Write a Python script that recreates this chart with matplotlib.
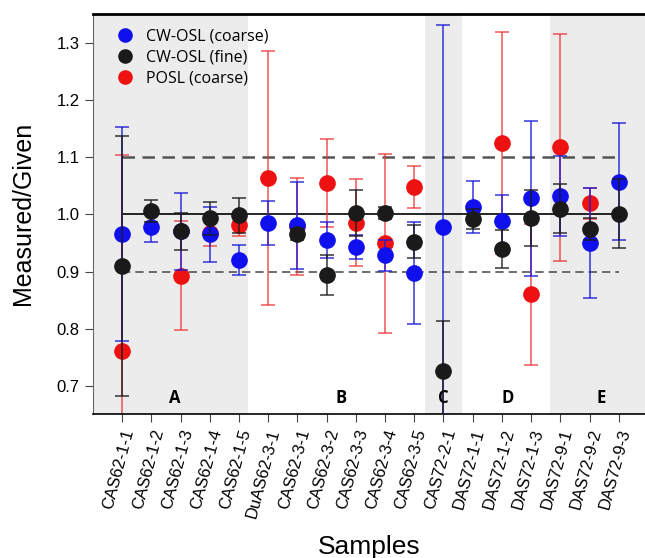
import numpy as np
import matplotlib
matplotlib.use("Agg")
import matplotlib.pyplot as plt
from matplotlib.lines import Line2D

samples = ["CAS62-1-1", "CAS62-1-2", "CAS62-1-3", "CAS62-1-4", "CAS62-1-5",
           "DuAS62-3-1", "CAS62-3-1", "CAS62-3-2", "CAS62-3-3", "CAS62-3-4",
           "CAS62-3-5", "CAS72-2-1", "DAS72-1-1", "DAS72-1-2", "DAS72-1-3",
           "DAS72-9-1", "DAS72-9-2", "DAS72-9-3"]

nan = np.nan
# CW-OSL (coarse)
cw_coarse = [0.965, 0.978, 0.970, 0.965, 0.920, 0.985, 0.981, 0.955, 0.942,
             0.928, 0.897, 0.978, 1.013, 0.988, 1.028, 1.032, 0.950, 1.057]
cw_coarse_err = [0.187, 0.026, 0.068, 0.048, 0.026, 0.039, 0.076, 0.032, 0.021,
                 0.027, 0.089, 0.352, 0.045, 0.046, 0.135, 0.070, 0.096, 0.102]
# CW-OSL (fine)
cw_fine = [0.909, 1.006, 0.970, 0.993, 0.998, nan, 0.965, 0.894, 1.002,
           1.002, 0.952, 0.727, 0.992, 0.940, 0.994, 1.010, 0.974, 1.001]
cw_fine_err = [0.227, 0.019, 0.033, 0.029, 0.031, nan, 0.010, 0.035, 0.040,
               0.010, 0.029, 0.087, 0.018, 0.033, 0.049, 0.043, 0.019, 0.060]
# POSL (coarse)
posl = [0.761, nan, 0.893, 0.967, 0.982, 1.063, 0.979, 1.054, 0.985,
        0.949, 1.048, nan, nan, 1.124, 0.860, 1.117, 1.019, nan]
posl_err = [0.342, nan, 0.095, 0.022, 0.020, 0.222, 0.085, 0.077, 0.076,
            0.156, 0.037, nan, nan, 0.194, 0.123, 0.198, 0.027, nan]

groups = ["A", "B", "C", "D", "E"]
group_x = [2.8, 8.5, 12.0, 14.2, 17.4]
shades = [(0.0, 5.3), (11.36, 12.64), (15.64, 19.0)]

x = np.arange(1, len(samples) + 1)

fig = plt.figure(figsize=(6.45, 5.58), dpi=100)
ax = fig.add_axes([93/645, 1 - 414/558, 552/645, 400/558])

for a, b in shades:
    ax.axvspan(a, b, color='#ececec', lw=0, zorder=0)

ax.hlines(1.0, 1, 18, colors='black', lw=1.2, zorder=1)
ax.hlines(1.1, 1, 18, colors='#555555', lw=1.8, linestyles=(0, (5, 3)), zorder=1)
ax.hlines(0.9, 1, 18, colors='#555555', lw=1.2, linestyles=(0, (5, 3)), zorder=1)

style = dict(fmt='o', ms=11, capsize=5, elinewidth=1.3, capthick=1.3)
ax.errorbar(x, posl, yerr=posl_err, color='#ee1111', mec='#ee1111',
            ecolor=(0.93, 0.2, 0.2, 0.7), zorder=2, **style)
ax.errorbar(x, cw_coarse, yerr=cw_coarse_err, color='#1010ee', mec='#1010ee',
            ecolor=(0.1, 0.1, 0.85, 0.75), zorder=3, **style)
ax.errorbar(x, cw_fine, yerr=cw_fine_err, color='#1a1a1a', mec='#1a1a1a',
            ecolor=(0.1, 0.1, 0.1, 0.75), zorder=4, **style)

for g, gx in zip(groups, group_x):
    ax.text(gx, 0.679, g, ha='center', va='center', fontsize=12, fontweight='bold',
            family='Open Sans')

ax.set_xlim(0, 18.9)
ax.set_ylim(0.651, 1.35)
ax.set_yticks([0.7, 0.8, 0.9, 1.0, 1.1, 1.2, 1.3])
ax.set_yticklabels(["0.7", "0.8", "0.9", "1.0", "1.1", "1.2", "1.3"],
                   family='Liberation Sans', fontsize=12)
ax.set_xticks(x)
ax.set_xticklabels(samples, rotation=75, ha='right', rotation_mode='anchor',
                   family='Liberation Sans', fontsize=12)
ax.tick_params(direction='out', length=6, width=0.8, color='#444444')

ax.spines['right'].set_visible(False)
ax.spines['top'].set_linewidth(2)
ax.spines['left'].set_linewidth(0.8)
ax.spines['left'].set_color('#666666')
ax.spines['bottom'].set_linewidth(1.2)

ax.set_ylabel("Measured/Given", family='Liberation Sans', fontsize=18)
ax.yaxis.set_label_coords(-0.105, 0.5025)
ax.set_xlabel("Samples", family='Liberation Sans', fontsize=19, va='top')
ax.xaxis.set_label_coords(0.5, -0.3025)

handles = [Line2D([], [], ls='none', marker='o', ms=9.5, color=c)
           for c in ['#1010ee', '#1a1a1a', '#ee1111']]
ax.legend(handles, ["CW-OSL (coarse)", "CW-OSL (fine)", "POSL (coarse)"],
          loc='upper left', bbox_to_anchor=(0.0174, 0.9805), frameon=False,
          handletextpad=0.3, labelspacing=0.31, borderaxespad=0,
          prop={'family': 'Open Sans', 'size': 11.5})

fig.savefig("out.png", dpi=100)
